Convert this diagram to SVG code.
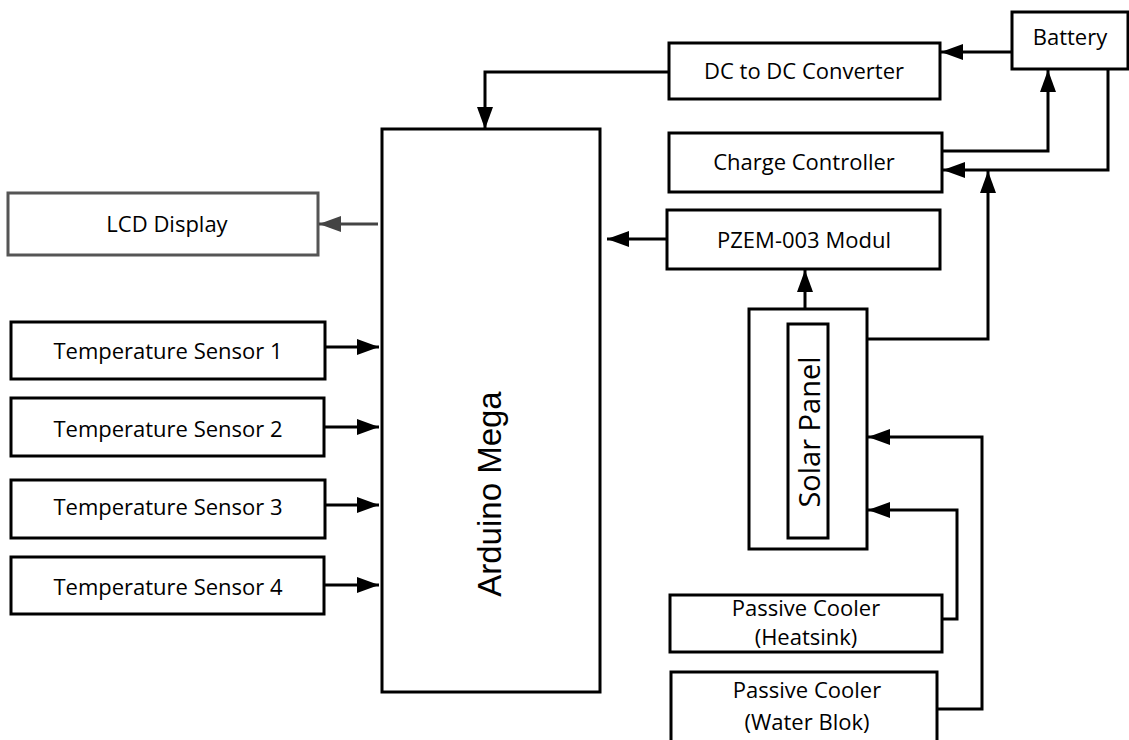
<svg xmlns="http://www.w3.org/2000/svg" width="1129" height="740" viewBox="0 0 1129 740">
  <defs>
    <marker id="ah" markerUnits="userSpaceOnUse" markerWidth="22" markerHeight="16" refX="22" refY="8" orient="auto">
      <path d="M0,0 L22,8 L0,16 Z" fill="#000"/>
    </marker>
    <marker id="ahg" markerUnits="userSpaceOnUse" markerWidth="22" markerHeight="16" refX="22" refY="8" orient="auto">
      <path d="M0,0 L22,8 L0,16 Z" fill="#444"/>
    </marker>
  </defs>
  <style>
    .box { fill: #fff; stroke: #000; stroke-width: 3; }
    .gbox { fill: #fff; stroke: #555; stroke-width: 3; }
    .lbl { font-family: "Open Sans", "Liberation Sans", sans-serif; font-size: 22px; fill: #000; text-anchor: middle; }
    .conn { fill: none; stroke: #000; stroke-width: 3; marker-end: url(#ah); }
    .gconn { fill: none; stroke: #444; stroke-width: 3; marker-end: url(#ahg); }
  </style>
  <rect width="1129" height="740" fill="#fff"/>

  <g id="arduino">
    <rect class="box" x="382" y="129" width="218" height="563"/>
    <text transform="translate(501,494) rotate(-90)" x="0" y="0" style="font-family: 'Liberation Sans', Arial, sans-serif; font-size: 33px; text-anchor: middle;">Arduino Mega</text>
  </g>
  <g id="dcdc">
    <rect class="box" x="669" y="43" width="271" height="56"/>
    <text class="lbl" x="804" y="79">DC to DC Converter</text>
  </g>
  <g id="battery">
    <rect class="box" x="1012" y="12" width="116" height="57"/>
    <text class="lbl" x="1070" y="45">Battery</text>
  </g>
  <g id="charge">
    <rect class="box" x="669" y="133" width="273" height="59"/>
    <text class="lbl" x="804" y="170">Charge Controller</text>
  </g>
  <g id="lcd">
    <rect class="gbox" x="8" y="193" width="310" height="62"/>
    <text class="lbl" x="167" y="232">LCD Display</text>
  </g>
  <g id="pzem">
    <rect class="box" x="667" y="210" width="273" height="59"/>
    <text class="lbl" x="804" y="248">PZEM-003 Modul</text>
  </g>
  <g id="temp1">
    <rect class="box" x="11" y="322" width="314" height="57"/>
    <text class="lbl" x="168" y="359">Temperature Sensor 1</text>
  </g>
  <g id="temp2">
    <rect class="box" x="11" y="398" width="313" height="58"/>
    <text class="lbl" x="168" y="437">Temperature Sensor 2</text>
  </g>
  <g id="temp3">
    <rect class="box" x="11" y="480" width="314" height="58"/>
    <text class="lbl" x="168" y="515">Temperature Sensor 3</text>
  </g>
  <g id="temp4">
    <rect class="box" x="11" y="557" width="313" height="57"/>
    <text class="lbl" x="168" y="595">Temperature Sensor 4</text>
  </g>
  <g id="solar">
    <rect class="box" x="749" y="309" width="118" height="240"/>
    <rect class="box" x="788" y="324" width="40" height="214"/>
    <text transform="translate(820,432) rotate(-90)" x="0" y="0" style="font-family: 'Open Sans', 'Liberation Sans', sans-serif; font-size: 29px; text-anchor: middle;">Solar Panel</text>
  </g>
  <g id="heatsink">
    <rect class="box" x="670" y="595" width="272" height="57"/>
    <text class="lbl" x="806" y="616">Passive Cooler</text>
    <text class="lbl" x="806" y="645">(Heatsink)</text>
  </g>
  <g id="waterblok">
    <rect class="box" x="671" y="672" width="266" height="90"/>
    <text class="lbl" x="807" y="698">Passive Cooler</text>
    <text class="lbl" x="807" y="730">(Water Blok)</text>
  </g>

  <g id="connectors">
    <path class="conn" d="M669,72 H485 V129"/>
    <path class="conn" d="M1012,52 H941"/>
    <path class="conn" d="M942,151 H1048 V70"/>
    <path class="conn" d="M1108,69 V170 H943"/>
    <path class="conn" d="M867,339 H988 V171"/>
    <path class="conn" d="M667,239 H607"/>
    <path class="conn" d="M805,309 V270"/>
    <path class="conn" d="M942,619 H957 V510 H868"/>
    <path class="conn" d="M937,709 H982 V437 H868"/>
    <path class="gconn" d="M378,224 H319"/>
    <path class="conn" d="M325,347 H379"/>
    <path class="conn" d="M324,427 H379"/>
    <path class="conn" d="M325,505 H379"/>
    <path class="conn" d="M324,585 H379"/>
  </g>
</svg>
